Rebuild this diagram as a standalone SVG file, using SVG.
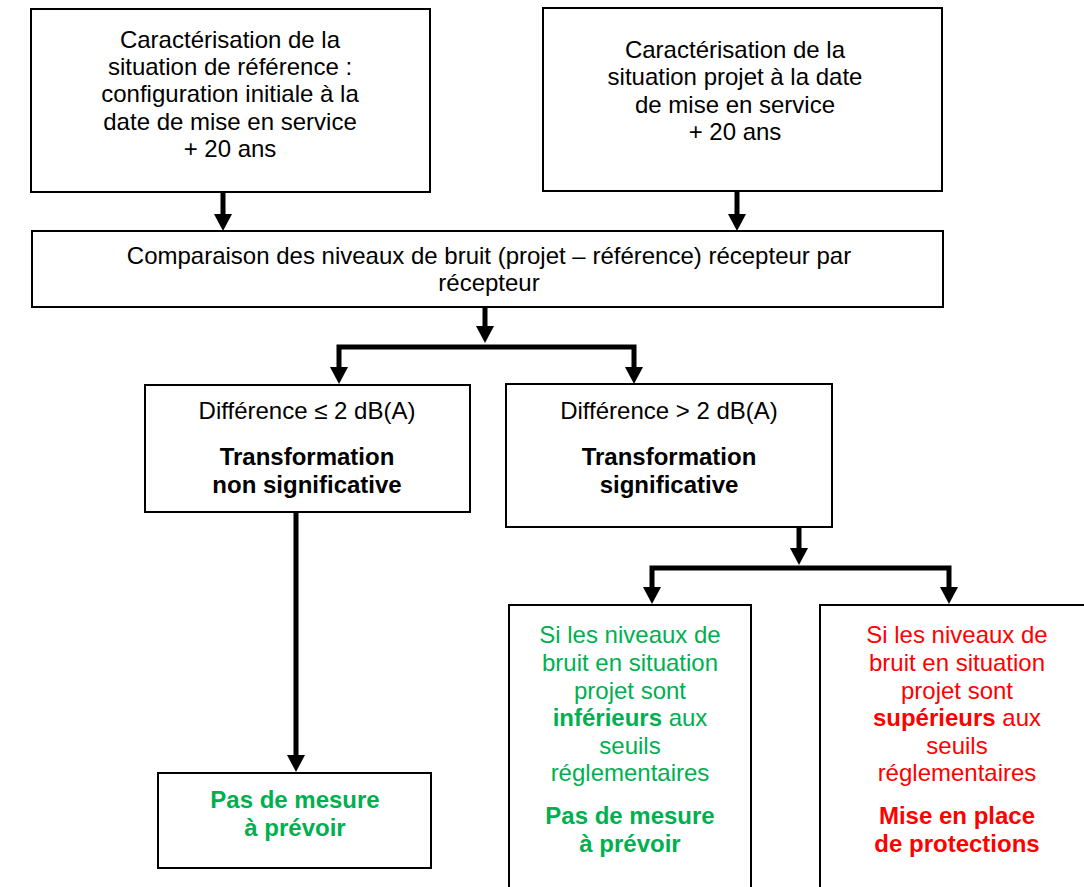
<svg xmlns="http://www.w3.org/2000/svg" width="1084" height="887" viewBox="0 0 1084 887">
<style>
.box{fill:#fff;stroke:#000;stroke-width:2}
text{font-family:"Liberation Sans",Arial,sans-serif;font-size:24px;text-anchor:middle;fill:#000}
.b{font-weight:bold}
.g{fill:#00B050}
.r{fill:#FF0000}
.c{fill:none;stroke:#000;stroke-width:5}
.h{fill:#000}
</style>
<rect width="1084" height="887" fill="#fff"/>
<g id="connectors">
<line class="c" x1="223" y1="192" x2="223" y2="216"/>
<polygon class="h" points="214,214 232,214 223,231"/>
<line class="c" x1="737" y1="191" x2="737" y2="216"/>
<polygon class="h" points="728,214 746,214 737,231"/>
<line class="c" x1="485" y1="307" x2="485" y2="328"/>
<polygon class="h" points="476,326 494,326 485,343"/>
<polyline class="c" points="339,369 339,347 634,347 634,369"/>
<polygon class="h" points="330,367 348,367 339,384"/>
<polygon class="h" points="625,367 643,367 634,384"/>
<line class="c" x1="296" y1="512" x2="296" y2="757"/>
<polygon class="h" points="287,755 305,755 296,772"/>
<line class="c" x1="799" y1="527" x2="799" y2="550"/>
<polygon class="h" points="790,548 808,548 799,565"/>
<polyline class="c" points="652,589 652,568 949,568 949,589"/>
<polygon class="h" points="643,587 661,587 652,604"/>
<polygon class="h" points="940,587 958,587 949,604"/>
</g>
<g id="ref">
<rect class="box" x="31" y="9" width="399" height="183"/>
<text x="230" y="48">Caractérisation de la</text>
<text x="230" y="75">situation de référence :</text>
<text x="230" y="102">configuration initiale à la</text>
<text x="230" y="130">date de mise en service</text>
<text x="230" y="157">+ 20 ans</text>
</g>
<g id="projet">
<rect class="box" x="543" y="8" width="399" height="183"/>
<text x="735" y="58">Caractérisation de la</text>
<text x="735" y="85">situation projet à la date</text>
<text x="735" y="113">de mise en service</text>
<text x="735" y="140">+ 20 ans</text>
</g>
<g id="comparaison">
<rect class="box" x="32" y="231" width="911" height="76"/>
<text x="489" y="264">Comparaison des niveaux de bruit (projet – référence) récepteur par</text>
<text x="489" y="291">récepteur</text>
</g>
<g id="diff-inf">
<rect class="box" x="145" y="385" width="325" height="127"/>
<text x="307" y="419">Différence ≤ 2 dB(A)</text>
<text class="b" x="307" y="465">Transformation</text>
<text class="b" x="307" y="493">non significative</text>
</g>
<g id="diff-sup">
<rect class="box" x="506" y="384" width="326" height="143"/>
<text x="669" y="419">Différence &gt; 2 dB(A)</text>
<text class="b" x="669" y="465">Transformation</text>
<text class="b" x="669" y="493">significative</text>
</g>
<g id="pas-mesure-1">
<rect class="box" x="158" y="773" width="273" height="95"/>
<text class="b g" x="295" y="808">Pas de mesure</text>
<text class="b g" x="295" y="836">à prévoir</text>
</g>
<g id="inferieurs">
<rect class="box" x="509" y="605" width="242" height="300"/>
<text class="g" x="630" y="643">Si les niveaux de</text>
<text class="g" x="630" y="671">bruit en situation</text>
<text class="g" x="630" y="699">projet sont</text>
<text class="g" x="630" y="726"><tspan class="b">inférieurs</tspan> aux</text>
<text class="g" x="630" y="754">seuils</text>
<text class="g" x="630" y="781">réglementaires</text>
<text class="b g" x="630" y="824">Pas de mesure</text>
<text class="b g" x="630" y="852">à prévoir</text>
</g>
<g id="superieurs">
<rect class="box" x="820" y="605" width="280" height="300"/>
<text class="r" x="957" y="643">Si les niveaux de</text>
<text class="r" x="957" y="671">bruit en situation</text>
<text class="r" x="957" y="699">projet sont</text>
<text class="r" x="957" y="726"><tspan class="b">supérieurs</tspan> aux</text>
<text class="r" x="957" y="754">seuils</text>
<text class="r" x="957" y="781">réglementaires</text>
<text class="b r" x="957" y="824">Mise en place</text>
<text class="b r" x="957" y="852">de protections</text>
</g>
</svg>
